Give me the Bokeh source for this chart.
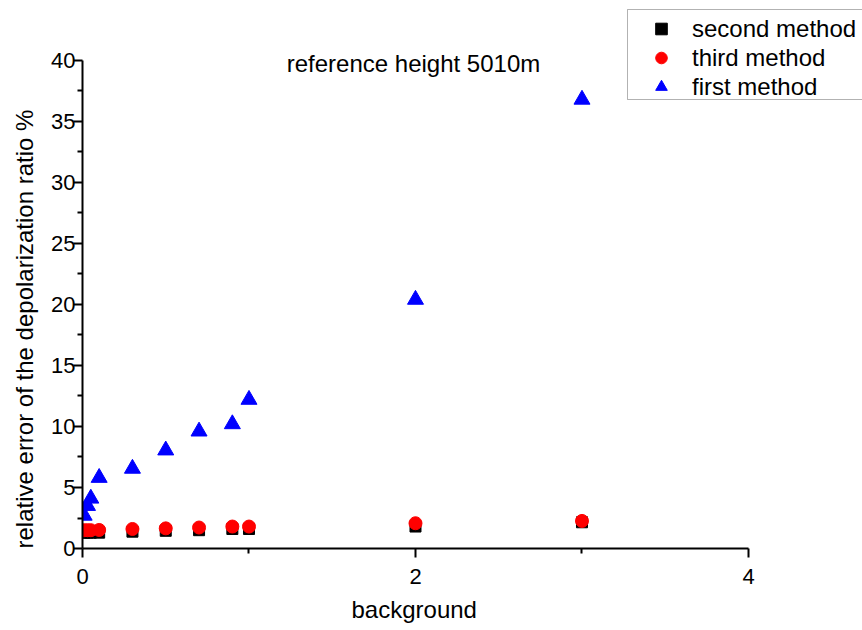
from bokeh.embed import file_html
from bokeh.models import (BoxAnnotation, ColumnDataSource, FixedTicker, Label,
                          Legend, LegendItem, Range1d, Title)
from bokeh.plotting import figure
from bokeh.resources import INLINE

# background level and relative error (%) of the depolarization ratio
background = [0.01, 0.03, 0.05, 0.1, 0.3, 0.5, 0.7, 0.9, 1.0, 2.0, 3.0]
second_method = [1.3, 1.3, 1.3, 1.3, 1.38, 1.45, 1.5, 1.6, 1.6, 1.8, 2.15]
third_method = [1.5, 1.5, 1.5, 1.52, 1.6, 1.65, 1.72, 1.8, 1.8, 2.07, 2.26]
first_method = [2.7, 3.5, 4.1, 5.8, 6.55, 8.05, 9.6, 10.2, 12.2, 20.4, 36.8]

x_major = [0, 2, 4]
x_minor = [1, 3]
y_major = [0, 5, 10, 15, 20, 25, 30, 35, 40]
y_minor = [2.5 + 5 * i for i in range(8)]

FONT = "Liberation Sans"

src = ColumnDataSource(dict(x=background, s2=second_method,
                            s3=third_method, s1=first_method))

# the plotting area reaches the top and right edges so that the heading and
# the legend can sit over it; the axes themselves stop at 4 and 40
p = figure(width=862, height=630, output_backend="svg", toolbar_location=None,
           x_range=Range1d(0, 4.6847), y_range=Range1d(0, 44.918),
           min_border_left=82, min_border_right=0,
           min_border_top=0, min_border_bottom=82)
p.grid.visible = False
p.outline_line_color = None
p.background_fill_color = "white"
p.border_fill_color = "white"

r2 = p.scatter("x", "s2", source=src, marker="square", size=11,
               fill_color="black", line_color="black")
r3 = p.scatter("x", "s3", source=src, marker="circle", size=13,
               fill_color="#ff0000", line_color="#ff0000")
r1 = p.scatter("x", "s1", source=src, marker="triangle", size=16,
               fill_color="#0000ff", line_color="#0000ff")

for ax in (p.xaxis[0], p.yaxis[0]):
    ax.axis_line_width = 2
    ax.axis_line_color = "black"
    ax.major_tick_line_width = 2
    ax.minor_tick_line_width = 2
    ax.major_tick_line_color = "black"
    ax.minor_tick_line_color = "black"
    ax.major_tick_in = 0
    ax.major_tick_out = 9
    ax.minor_tick_in = 0
    ax.minor_tick_out = 5
    ax.major_label_text_font = FONT
    ax.major_label_text_font_size = "22px"
    ax.major_label_text_color = "black"

p.xaxis.bounds = (0, 4)
p.yaxis.bounds = (0, 40)
p.xaxis.ticker = FixedTicker(ticks=x_major, minor_ticks=x_minor)
p.yaxis.ticker = FixedTicker(ticks=y_major, minor_ticks=y_minor)
p.xaxis.major_label_standoff = 11
p.yaxis.major_label_standoff = -2

# axis titles
p.add_layout(Title(text="background", align="left", offset=269, standoff=15,
                   text_font=FONT, text_font_size="24px",
                   text_font_style="normal", text_color="black"), "below")
p.add_layout(Title(text="relative error of the depolarization ratio %",
                   align="left", offset=0, vertical_align="top", standoff=18,
                   text_font=FONT, text_font_size="24px",
                   text_font_style="normal", text_color="black"), "left")

# heading near the top of the axes
p.add_layout(Label(x=331, y=485, x_units="screen", y_units="screen",
                   text="reference height 5010m", text_font=FONT,
                   text_font_size="24px", text_color="black",
                   text_align="center", text_baseline="alphabetic"))

# legend frame and entries
p.add_layout(BoxAnnotation(left=627, right=900, top=9, bottom=99,
                           left_units="canvas", right_units="canvas",
                           top_units="canvas", bottom_units="canvas",
                           fill_color=None, line_color="black", line_width=1))

legend = Legend(items=[LegendItem(label="second method", renderers=[r2]),
                       LegendItem(label="third method", renderers=[r3]),
                       LegendItem(label="first method", renderers=[r1])],
                location=(564, 447), padding=0, margin=0,
                border_line_alpha=0, background_fill_alpha=0,
                glyph_width=30, glyph_height=29, label_height=29, spacing=0,
                label_standoff=16, label_text_font=FONT,
                label_text_font_size="24px", label_text_color="black")
p.add_layout(legend)

open("out.html", "w").write(file_html(p, INLINE))
